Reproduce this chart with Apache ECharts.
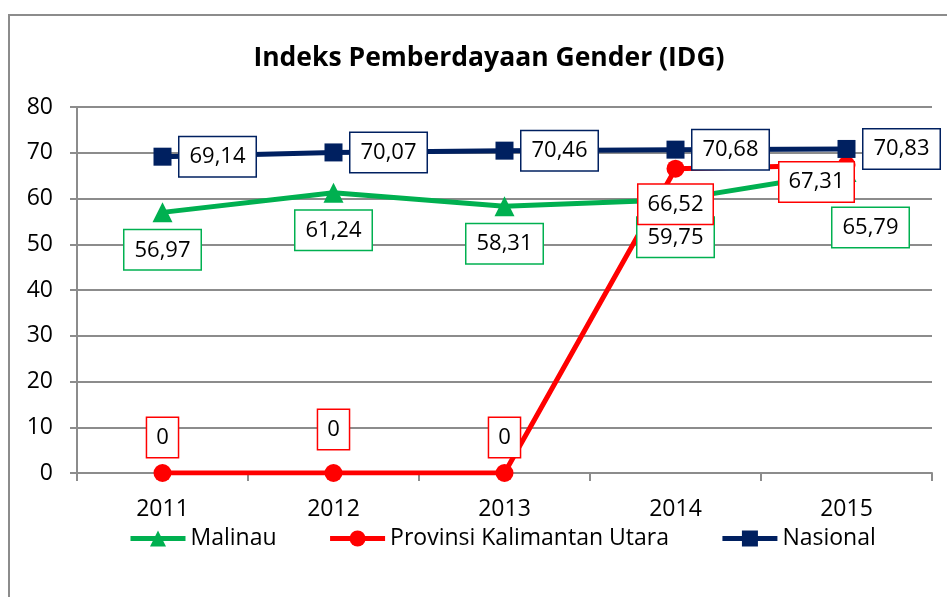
<!DOCTYPE html>
<html>
<head>
<meta charset="utf-8">
<script src="https://cdn.jsdelivr.net/npm/echarts@6/dist/echarts.min.js"></script>
<style>html,body{margin:0;padding:0;background:#fff}#c{width:947px;height:597px}</style>
</head>
<body>
<div id="c"></div>
<script>
const categories = ['2011', '2012', '2013', '2014', '2015'];
const malinau = [56.97, 61.24, 58.31, 59.75, 65.79];
const kaltara = [0, 0, 0, 66.52, 67.31];
const nasional = [69.14, 70.07, 70.46, 70.68, 70.83];
const seriesNames = ['Malinau', 'Provinsi Kalimantan Utara', 'Nasional'];
const titleText = 'Indeks Pemberdayaan Gender (IDG)';

const FONT = 'Open Sans';
const fmt = p => String(p.value).replace('.', ',');
function lbl(color, position, extra) {
  return Object.assign({
    show: true, position: position, distance: 8, formatter: fmt,
    color: '#000', fontFamily: FONT, fontSize: 22, lineHeight: 26,
    backgroundColor: '#fff', borderColor: color, borderWidth: 1.5,
    padding: [7, 10, 6, 10]
  }, extra || {});
}

const chart = echarts.init(document.getElementById('c'), null, {renderer: 'canvas'});
const malData = malinau.map((v, i) => i === 4 ? {value: v, label: {offset: [24, 18]}} : v);
const kalData = kaltara.map((v, i) => {
  if (i === 1) return {value: v, label: {offset: [0, -8]}};
  if (i === 3) return {value: v, label: {position: 'bottom'}};
  if (i === 4) return {value: v, label: {position: 'inside', offset: [-30, 17]}};
  return v;
});
chart.setOption({
  animation: false,
  textStyle: {fontFamily: FONT},
  graphic: [{
    type: 'rect', shape: {x: 9, y: 15, width: 960, height: 620},
    style: {fill: null, stroke: '#8c8c8c', lineWidth: 2}, silent: true, z: -10
  }],
  title: {
    text: titleText, left: 484, textAlign: 'center', top: 40,
    textStyle: {fontFamily: FONT, fontWeight: 'bold', fontSize: 26.5, color: '#000'}
  },
  legend: {
    left: 128, top: 527, padding: 0, itemWidth: 55, itemHeight: 20, itemGap: 51,
    textStyle: {fontFamily: FONT, fontSize: 23, color: '#000'},
    lineStyle: {width: 5},
    data: seriesNames
  },
  grid: {left: 77, right: 15, top: 107, bottom: 124, containLabel: false},
  xAxis: {
    type: 'category', data: categories, boundaryGap: true,
    axisLine: {lineStyle: {color: '#8c8c8c', width: 2}},
    axisTick: {show: true, length: 8, lineStyle: {color: '#8c8c8c', width: 2}},
    axisLabel: {color: '#000', fontFamily: FONT, fontSize: 23, margin: 25}
  },
  yAxis: {
    type: 'value', min: 0, max: 80, interval: 10,
    axisLine: {show: true, lineStyle: {color: '#8c8c8c', width: 2}},
    axisTick: {show: true, length: 7, lineStyle: {color: '#8c8c8c', width: 2}},
    axisLabel: {color: '#000', fontFamily: FONT, fontSize: 23, margin: 24},
    splitLine: {lineStyle: {color: '#8c8c8c', width: 2}}
  },
  series: [
    {
      name: seriesNames[0], type: 'line', data: malData,
      symbol: 'triangle', symbolSize: 20,
      itemStyle: {color: '#00B050'}, lineStyle: {color: '#00B050', width: 5},
      label: lbl('#00B050', 'bottom', {distance: 8})
    },
    {
      name: seriesNames[1], type: 'line', data: kalData,
      symbol: 'circle', symbolSize: 18,
      itemStyle: {color: '#FF0000'}, lineStyle: {color: '#FF0000', width: 5},
      label: lbl('#FF0000', 'top', {distance: 7, padding: [7, 9, 6, 9]})
    },
    {
      name: seriesNames[2], type: 'line', data: nasional,
      symbol: 'rect', symbolSize: 18,
      itemStyle: {color: '#002060'}, lineStyle: {color: '#002060', width: 5},
      label: lbl('#002060', 'right', {distance: 8})
    }
  ]
});
</script>
</body>
</html>
